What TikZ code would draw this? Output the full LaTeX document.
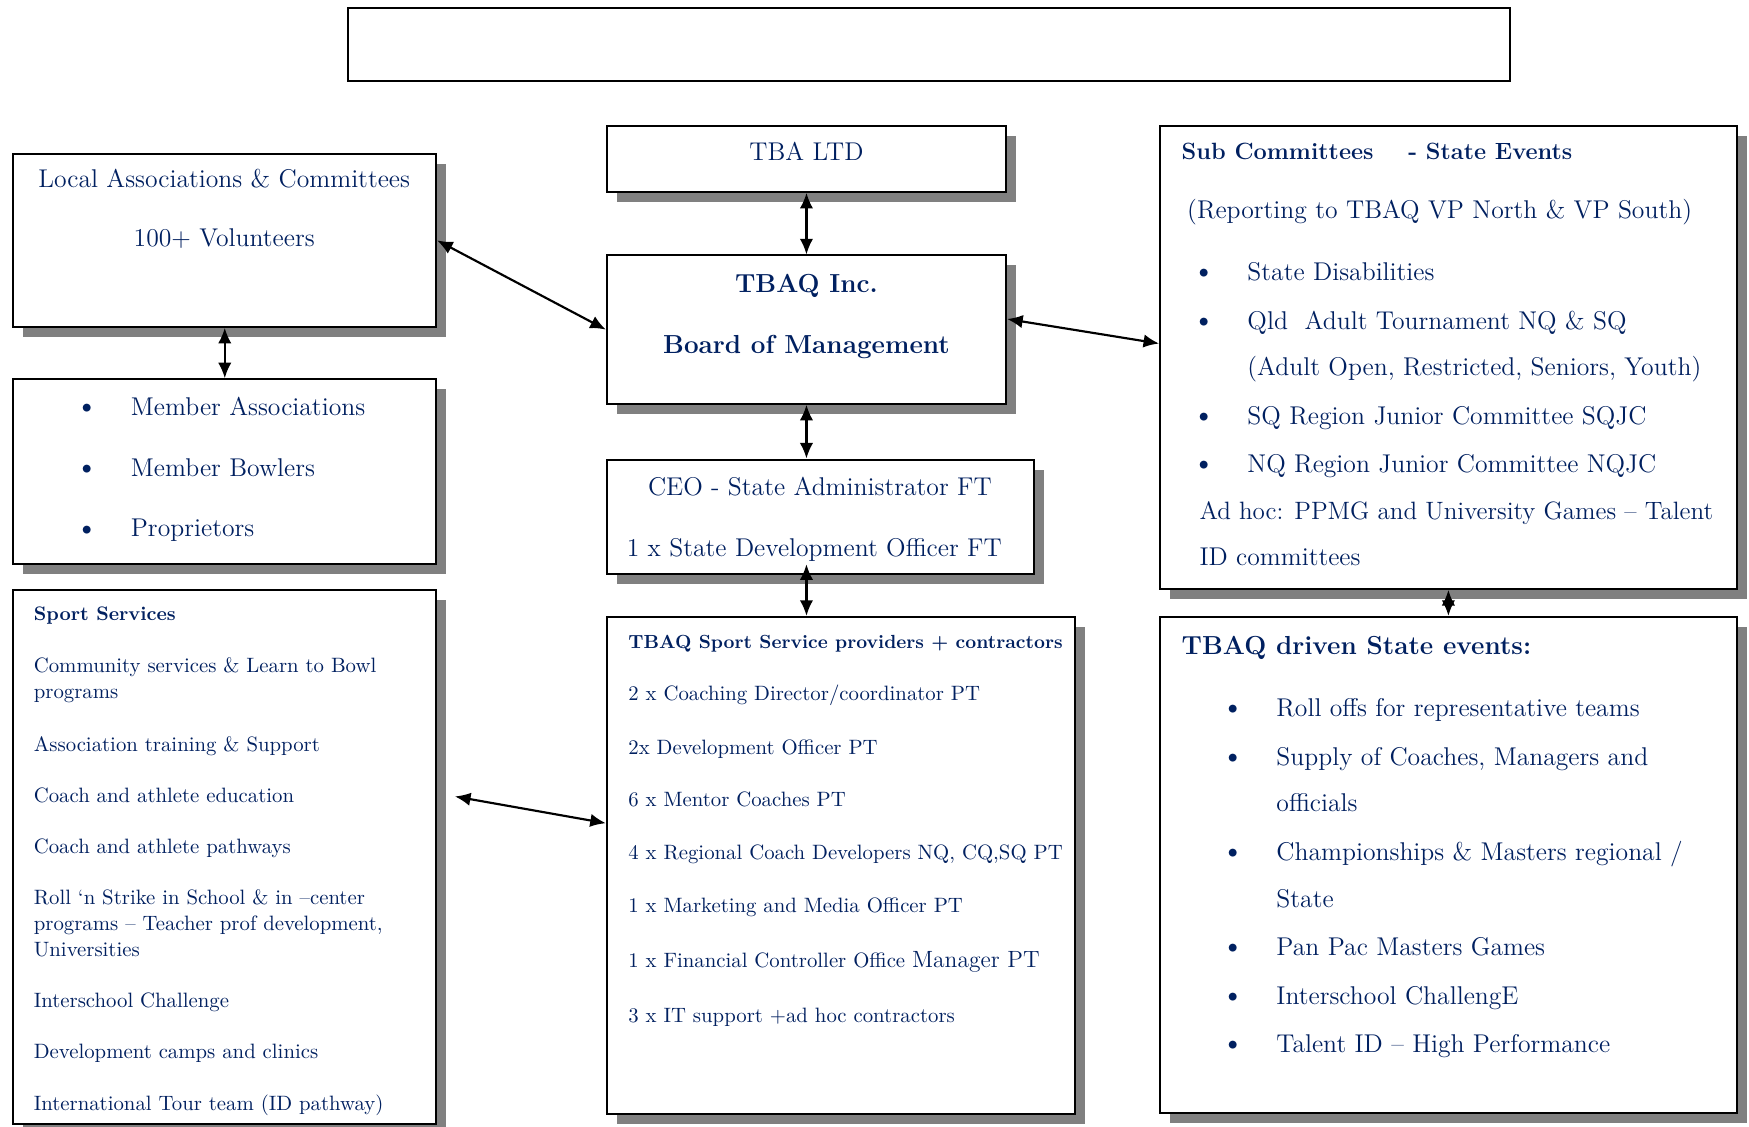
\documentclass[tikz,border=0pt]{standalone}
\usepackage{fontspec}
\usetikzlibrary{arrows.meta,shadows}
\definecolor{navy}{RGB}{0,32,96}
\tikzset{
	box/.style={draw, line width=1pt, fill=white, inner sep=0pt},
	sbox/.style={box, drop shadow={shadow xshift=0.18cm, shadow yshift=-0.18cm, fill=black!50, opacity=1}},
	txt/.style={text=navy, inner sep=0pt, text height=0.9em, text depth=0.18em},
	big/.style={txt, font=\fontsize{13.1}{16}\selectfont},
	small/.style={txt, font=\fontsize{10.6}{13}\selectfont},
	dot/.style={txt, font=\fontsize{18}{18}\selectfont, yshift=-0.04cm},
	link/.style={{Latex[length=0.28cm,width=0.24cm]}-{Latex[length=0.28cm,width=0.24cm]}, line width=1.1pt}
}
\begin{document}
\begin{tikzpicture}[x=0.02cm, y=-0.02cm]
	\useasboundingbox (0,0) rectangle (1568,1010);
	% boxes
	\node[box, minimum width=20.84cm, minimum height=1.32cm] (title) at (833,40) {};
	\node[sbox, minimum width=7.58cm, minimum height=3.10cm] (local) at (201.5,215.5) {};
	\node[sbox, minimum width=7.58cm, minimum height=3.32cm] (member) at (201.5,423) {};
	\node[sbox, minimum width=7.58cm, minimum height=9.58cm] (sport) at (201.5,768.5) {};
	\node[sbox, minimum width=7.16cm, minimum height=1.18cm] (tba) at (723,142.5) {};
	\node[sbox, minimum width=7.16cm, minimum height=2.66cm] (tbaq) at (723,295.5) {};
	\node[sbox, minimum width=7.66cm, minimum height=2.06cm] (ceo) at (735.5,463.5) {};
	\node[sbox, minimum width=8.40cm, minimum height=8.92cm] (prov) at (754,776) {};
	\node[sbox, minimum width=10.34cm, minimum height=8.30cm] (sub) at (1298.5,320.5) {};
	\node[sbox, minimum width=10.34cm, minimum height=8.90cm] (driven) at (1298.5,775.5) {};

	% left column
	\node[big] (localA) at (201,162) {Local Associations \& Committees};
	\node[big] (localB) at (201,215) {100+ Volunteers};
	\foreach \y/\t [count=\i] in {366/Member Associations, 421/Member Bowlers, 475/Proprietors}{
		\node[dot] (mbb\i) at (78,\y) {\textbullet};
		\node[big, anchor=west] (mb\i) at (117,\y) {\t};
	}
	\node[small, anchor=west, font=\fontsize{10}{13}\selectfont\bfseries] (ssHead) at (30,550) {Sport Services};
	\foreach \y/\t [count=\i] in {597/{Community services \& Learn to Bowl}, 620/{programs},
		667/{Association training \& Support}, 713/{Coach and athlete education},
		759/{Coach and athlete pathways}, 805/{Roll ‘n Strike in School \& in –center},
		828/{programs – Teacher prof development,}, 851/{Universities},
		897/{Interschool Challenge}, 943/{Development camps and clinics},
		989/{International Tour team (ID pathway)}}
		\node[small, anchor=west] (ss\i) at (30,\y) {\t};

	% middle column
	\node[big] (tbaT) at (723,138) {TBA LTD};
	\node[big, font=\fontsize{13.3}{16}\selectfont\bfseries] (tbaqA) at (723,256) {TBAQ Inc.};
	\node[big, font=\fontsize{13.3}{16}\selectfont\bfseries] (tbaqB) at (723,311) {Board of Management};
	\node[big] (ceoA) at (735,438) {CEO - State Administrator FT};
	\node[big] (ceoB) at (730,493) {1 x State Development Officer FT};
	\node[small, anchor=west, font=\fontsize{9.7}{13}\selectfont\bfseries] (provHead) at (563,575) {TBAQ Sport Service providers + contractors};
	\foreach \y/\t [count=\i] in {622/{2 x Coaching Director/coordinator PT}, 670/{2x Development Officer PT},
		717/{6 x Mentor Coaches PT}, 764/{4 x Regional Coach Developers NQ, CQ,SQ PT},
		812/{1 x Marketing and Media Officer PT},
		861/{1 x Financial Controller Office {\fontsize{12}{14}\selectfont Manager PT}},
		910/{3 x IT support +ad hoc contractors}}
		\node[small, anchor=west] (pv\i) at (563,\y) {\t};

	% right column
	\node[big, anchor=west, font=\fontsize{12}{16}\selectfont\bfseries] (subHead) at (1059,137) {Sub Committees\hspace{1.1em} - State Events};
	\node[big, anchor=west] (subRep) at (1064,190) {(Reporting to TBAQ VP North \& VP South)};
	\foreach \y/\t [count=\i] in {245/{State Disabilities}, 289/{Qld\ \ Adult Tournament NQ \& SQ},
		374/{SQ Region Junior Committee SQJC}, 417/{NQ Region Junior Committee NQJC}}{
		\node[dot] (sbb\i) at (1080,\y) {\textbullet};
		\node[big, anchor=west] (sb\i) at (1118,\y) {\t};
	}
	\node[big, anchor=west] (sbOpen) at (1118,330) {(Adult Open, Restricted, Seniors, Youth)};
	\node[big, anchor=west, font=\fontsize{12.8}{16}\selectfont] (adhocA) at (1075,459) {Ad hoc: PPMG and University Games – Talent};
	\node[big, anchor=west] (adhocB) at (1075,501) {ID committees};

	\node[big, anchor=west, font=\fontsize{13.3}{19}\selectfont\bfseries] (drHead) at (1059,580) {TBAQ driven State events:};
	\foreach \y/\t [count=\i] in {636/{Roll offs for representative teams}, 680/{Supply of Coaches, Managers and},
		765/{Championships \& Masters regional /}, 850/{Pan Pac Masters Games},
		894/{Interschool ChallengE}, 937/{Talent ID – High Performance}}{
		\node[dot] (dbb\i) at (1106,\y) {\textbullet};
		\node[big, anchor=west] (db\i) at (1144,\y) {\t};
	}
	\node[big, anchor=west] (drOff) at (1144,721) {officials};
	\node[big, anchor=west] (drState) at (1144,807) {State};

	% connectors
	\draw[link] (tba) -- (tbaq);
	\draw[link] (tbaq.south) -- (tbaq.south |- ceo.north);
	\draw[link] ([yshift=0.2cm]tbaq.south |- ceo.south) -- (tbaq.south |- prov.north);
	\draw[link] (local.east) -- (tbaq.west);
	\draw[link] (local) -- (member);
	\draw[link] ([yshift=0.19cm]tbaq.east) -- ([yshift=0.25cm]sub.west);
	\coordinate (ssEnd) at ([xshift=0.32cm, yshift=1.09cm]sport.east);
	\draw[link] (ssEnd) -- ([yshift=0.76cm]prov.west);
	\draw[link] (sub) -- (driven);
\end{tikzpicture}
\end{document}
